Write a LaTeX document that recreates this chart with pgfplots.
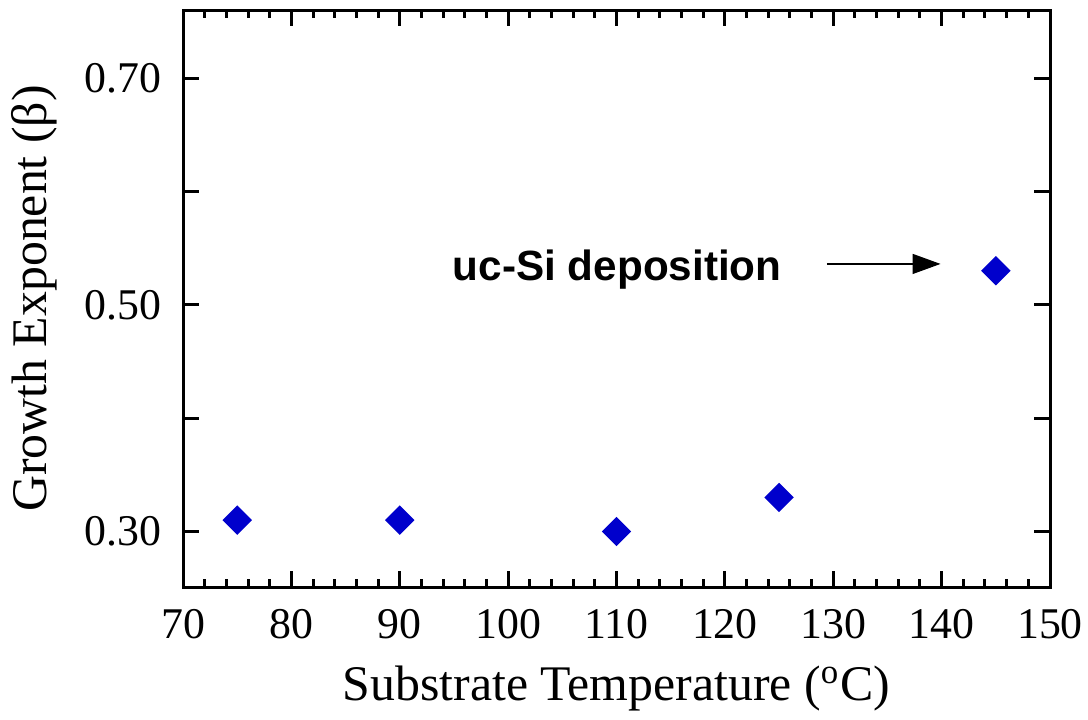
\documentclass[border=0pt]{standalone}
\usepackage{fontspec}
\setmainfont{Liberation Serif}
\newfontfamily\arialfont{Liberation Sans}
\usepackage{pgfplots}
\pgfplotsset{compat=1.18}
\usetikzlibrary{arrows.meta}
\definecolor{markblue}{RGB}{0,0,204}

\begin{document}
\begin{tikzpicture}
\begin{axis}[scale only axis, width=216.75bp, height=144.25bp,
  xmin=70, xmax=150, ymin=0.251, ymax=0.76,
  xtick={70,80,...,150}, minor x tick num=4,
  ytick={0.3,0.4,0.5,0.6,0.7}, yticklabels={0.30,,0.50,,0.70},
  tick align=inside, axis line style={line width=0.75bp},
  major tick length=4bp, minor tick length=1.9bp,
  every tick/.style={black, line width=0.75bp},
  /pgf/number format/assume math mode=true,
  tick label style={font=\fontsize{11}{13}\selectfont},
  xticklabel style={yshift=-2bp},
  yticklabel style={xshift=-2bp},
  label style={font=\fontsize{12.5}{15}\selectfont},
  xlabel={Substrate Temperature (\textsuperscript{o}C)},
  ylabel={Growth Exponent (β)},
  clip=false]
\addplot[only marks, mark=square*, mark size=2.4bp, color=markblue, mark options={rotate=45}] coordinates {(75,0.31) (90,0.31) (110,0.30) (125,0.33) (145,0.53)};
\draw[line width=0.35bp, -{Triangle[length=7bp,width=5bp]}] (axis cs:129.4,0.536) -- (axis cs:139.9,0.536);
\node[anchor=east, font=\arialfont\bfseries\fontsize{10.6}{12}\selectfont, inner sep=0pt] at (axis cs:125.3,0.531) {uc-Si deposition};
\end{axis}
\pgfresetboundingbox
\path (current axis.south west) ++(-45.75bp,-33bp) rectangle ([xshift=9.5bp,yshift=2.5bp]current axis.north east);
\end{tikzpicture}
\end{document}
